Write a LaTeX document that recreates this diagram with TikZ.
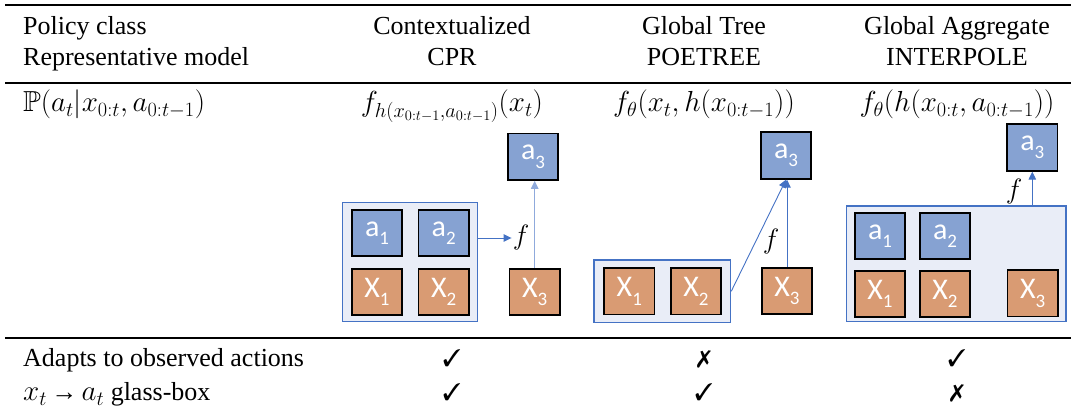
\RequirePackage{fix-cm}
\documentclass[tikz,border=0pt]{standalone}
\usepackage{amssymb}
\usepackage{pifont}
\usepackage{fontspec}
\setmainfont{Liberation Serif}
\newfontfamily\boxfont{Carlito}
\usetikzlibrary{arrows.meta}
\definecolor{boxblue}{RGB}{134,162,210}
\definecolor{boxorange}{RGB}{217,155,115}
\definecolor{panelfill}{RGB}{233,237,247}
\definecolor{panelline}{RGB}{68,114,196}
\definecolor{arrowblue}{RGB}{68,114,196}
\newcommand\boxlbl[2]{#1\raisebox{-0.28em}{\fontsize{19}{19}\selectfont #2}}
\tikzset{
  txt/.style={inner sep=0pt, anchor=base, font=\fontsize{26}{31}\selectfont},
  ltxt/.style={txt, anchor=base west},
  mth/.style={inner sep=0pt, anchor=base, font=\fontsize{29}{31}\selectfont},
  lmth/.style={mth, anchor=base west},
  chk/.style={inner sep=0pt, anchor=base, font=\fontsize{24}{26}\selectfont},
  cell/.style={draw=black, line width=1.8pt, minimum width=50.5pt, minimum height=46.5pt,
    inner sep=0pt, text=white, font=\boxfont\fontsize{30}{30}\selectfont},
  abox/.style={cell, fill=boxblue},
  xbox/.style={cell, fill=boxorange},
  panel/.style={draw=panelline, fill=panelfill, line width=1.2pt, inner sep=0pt},
  flbl/.style={inner sep=1pt, font=\fontsize{28}{28}\selectfont},
  conn/.style={draw=arrowblue, line width=0.9pt, -{Triangle[length=8pt,width=7.5pt]}},
  rule/.style={line width=#1}
}
\begin{document}
\begin{tikzpicture}[x=1pt,y=-1pt]
\useasboundingbox (0,0) rectangle (1071,411);
% rules
\coordinate (r1l) at (5,5);   \coordinate (r1r) at (1071,5);
\coordinate (r2l) at (5,83);  \coordinate (r2r) at (1071,83);
\coordinate (r3l) at (5,338); \coordinate (r3r) at (1071,338);
\draw[rule=2.6pt] (r1l) -- (r1r);
\draw[rule=1.5pt] (r2l) -- (r2r);
\draw[rule=1.5pt] (r3l) -- (r3r);
% header
\node[ltxt] (h1) at (23,35) {Policy class};
\node[ltxt] (h2) at (23,66) {Representative model};
\node[txt] (c1a) at (452,35) {Contextualized};
\node[txt] (c1b) at (452,66) {CPR};
\node[txt] (c2a) at (704,35) {Global Tree};
\node[txt] (c2b) at (704,66) {POETREE};
\node[txt] (c3a) at (957,35) {Global Aggregate};
\node[txt] (c3b) at (957,66) {INTERPOLE};
% formula row
\node[lmth] (p0) at (23,112) {$\mathbb{P}(a_t|x_{0:t},a_{0:t-1})$};
\node[mth] (p1) at (452,112) {$f_{h(x_{0:t-1},a_{0:t-1})}(x_t)$};
\node[mth] (p2) at (704,112) {$f_\theta(x_t,h(x_{0:t-1}))$};
\node[mth] (p3) at (957,112) {$f_\theta(h(x_{0:t},a_{0:t-1}))$};
% CPR diagram
\node[panel, minimum width=135pt, minimum height=119pt] (cbox) at (410.2,262.2) {};
\node[abox] (ca1) at (377,233) {\boxlbl{a}{1}};
\node[abox] (ca2) at (443.7,233) {\boxlbl{a}{2}};
\node[xbox] (cx1) at (377,292) {\boxlbl{X}{1}};
\node[xbox] (cx2) at (443.7,292) {\boxlbl{X}{2}};
\node[xbox] (cx3) at (534.7,292) {\boxlbl{X}{3}};
\node[abox] (ca3) at (533,156.7) {\boxlbl{a}{3}};
\node[flbl] (cf) at (521,238) {$f$};
\draw[conn] (cbox.east |- cf.west) -- (cf.west);
\draw[conn, draw=arrowblue!60] (cx3.north) -- (cx3.north |- ca3.south);
% POETREE diagram
\node[panel, minimum width=136.7pt, minimum height=62.7pt] (pbox) at (662.3,291.3) {};
\node[xbox] (px1) at (629.3,291.3) {\boxlbl{X}{1}};
\node[xbox] (px2) at (696,291.3) {\boxlbl{X}{2}};
\node[xbox] (px3) at (787,291) {\boxlbl{X}{3}};
\node[abox] (pa3) at (786,155.5) {\boxlbl{a}{3}};
\node[flbl] (pf) at (771,242) {$f$};
\draw[conn] (pbox.east) -- (pa3.south);
\draw[conn] (px3.north) -- (px3.north |- pa3.south);
% INTERPOLE diagram
\node[panel, minimum width=219.3pt, minimum height=115.7pt] (ibox) at (956.3,263.8) {};
\node[abox] (ia1) at (880,236) {\boxlbl{a}{1}};
\node[abox] (ia2) at (945,236) {\boxlbl{a}{2}};
\node[xbox] (ix1) at (880,294) {\boxlbl{X}{1}};
\node[xbox] (ix2) at (945,294) {\boxlbl{X}{2}};
\node[xbox] (ix3) at (1032.7,293.3) {\boxlbl{X}{3}};
\node[abox] (ia3) at (1032.3,147.5) {\boxlbl{a}{3}};
\node[flbl] (if) at (1014,192) {$f$};
\draw[conn] (ia3.south |- ibox.north) -- (ia3.south);
% bottom rows
\node[ltxt] (b1) at (23,367) {Adapts to observed actions};
\node[ltxt] (b2) at (23,401) {{\fontsize{29}{31}\selectfont$x_t$}\,→\,{\fontsize{29}{31}\selectfont$a_t$} glass-box};
\node[chk] (k11) at (452,367) {\ding{51}};
\node[chk] (k12) at (704,367) {\ding{55}};
\node[chk] (k13) at (957,367) {\ding{51}};
\node[chk] (k21) at (452,401) {\ding{51}};
\node[chk] (k22) at (704,401) {\ding{51}};
\node[chk] (k23) at (957,401) {\ding{55}};
\end{tikzpicture}
\end{document}
